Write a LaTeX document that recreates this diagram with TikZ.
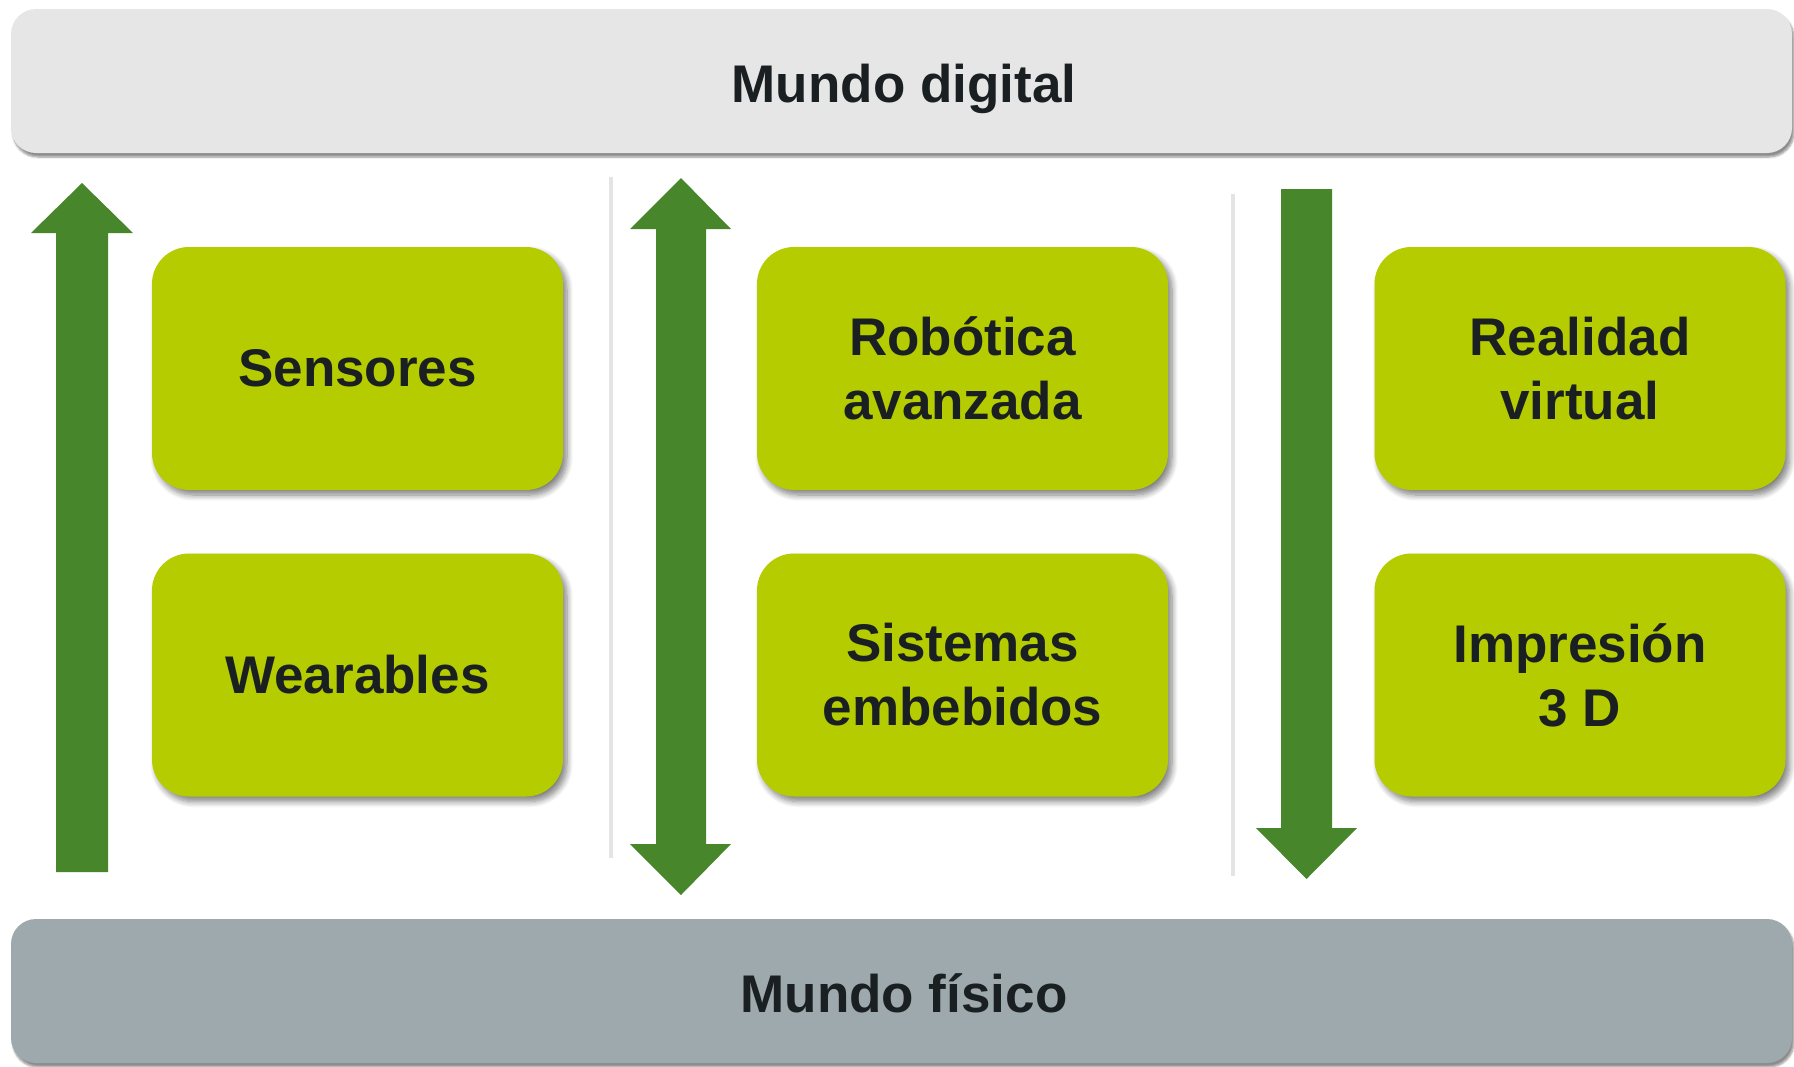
\documentclass[tikz,border=0pt]{standalone}
\usepackage{fontspec}
\setmainfont{Liberation Sans}
\usetikzlibrary{shadows.blur}
\definecolor{boxgreen}{RGB}{181,204,0}
\definecolor{arrowgreen}{RGB}{71,134,42}
\definecolor{topgray}{RGB}{230,230,230}
\definecolor{botgray}{RGB}{158,169,173}
\definecolor{textdark}{RGB}{26,31,34}
\definecolor{sepgray}{RGB}{228,228,228}
\tikzset{
  bar/.style={rounded corners=25pt, minimum width=1781pt, minimum height=144pt, inner sep=0pt,
    text height=38pt, text depth=0pt,
    font=\bfseries\fontsize{53}{64}\selectfont, text=textdark,
    blur shadow={shadow xshift=2pt, shadow yshift=-4pt, shadow blur steps=6, shadow blur extra rounding=2pt, shadow opacity=45}},
  techbox/.style={fill=boxgreen, rounded corners=37pt, minimum width=411pt, minimum height=243pt,
    inner sep=0pt, align=center, font=\bfseries\fontsize{53}{64}\selectfont, text=textdark,
    blur shadow={shadow xshift=4pt, shadow yshift=-5pt, shadow blur steps=8, shadow blur extra rounding=4pt, shadow blur radius=6pt, shadow opacity=50}},
  blockarrow/.style={fill=arrowgreen, draw=none},
  sepline/.style={draw=sepgray, line width=4pt}
}
\begin{document}
\begin{tikzpicture}[x=1pt,y=-1pt]
\useasboundingbox (0,0) rectangle (1794,1066);
% bars
\node[bar, fill=topgray] (digital) at (901.5,81) {};
\node[text=textdark, font=\bfseries\fontsize{53}{64}\selectfont, inner sep=0pt, text height=38pt, text depth=0pt] (digitaltext) at (904,83) {Mundo digital};
\node[bar, fill=botgray] (fisico) at (901.5,991) {};
\node[text=textdark, font=\bfseries\fontsize{53}{64}\selectfont, inner sep=0pt, text height=38pt, text depth=0pt] (fisicotext) at (904,993) {Mundo físico};
% separators
\coordinate (s1a) at (611,177); \coordinate (s1b) at (611,858);
\coordinate (s2a) at (1233,194); \coordinate (s2b) at (1233,876);
\draw[sepline] (s1a) -- (s1b);
\draw[sepline] (s2a) -- (s2b);
% arrows
\fill[blockarrow] (82,183) -- (133,233) -- (108,233) -- (108,872) -- (56,872) -- (56,233) -- (31,233) -- cycle;
\fill[blockarrow] (681,178) -- (731,229) -- (706,229) -- (706,844) -- (731,844) -- (681,895) -- (630,844) -- (656,844) -- (656,229) -- (630,229) -- cycle;
\fill[blockarrow] (1281,189) -- (1332,189) -- (1332,828) -- (1357,828) -- (1306.5,879) -- (1256,828) -- (1281,828) -- cycle;
% boxes
\node[techbox] (sensores) at (357.5,368.5) {Sensores};
\node[techbox] (wearables) at (357.5,675) {Wearables};
\node[techbox] (robotica) at (962.5,368.5) {Robótica\\avanzada};
\node[techbox] (sistemas) at (962.5,675) {Sistemas\\embebidos};
\node[techbox] (realidad) at (1580,368.5) {Realidad\\virtual};
\node[techbox] (impresion) at (1580,675) {Impresión\\3 D};
\end{tikzpicture}
\end{document}
